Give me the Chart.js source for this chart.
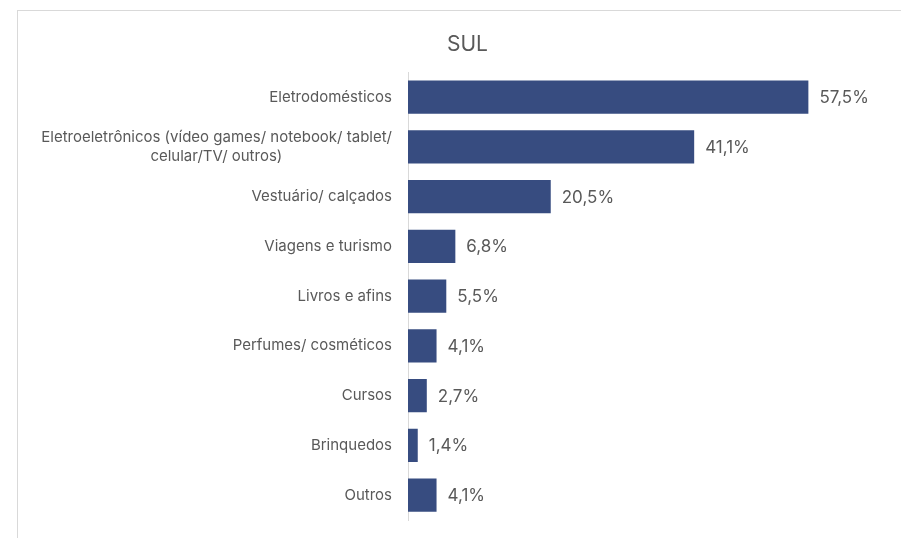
<!DOCTYPE html>
<html>
<head>
<meta charset="utf-8">
<script src="https://cdn.jsdelivr.net/npm/chart.js@4.4.1/dist/chart.umd.min.js"></script>
<style>
  html, body { margin: 0; padding: 0; background: #ffffff; overflow: hidden; width: 901px; height: 538px; }
  #wrap { position: absolute; left: 17px; top: 10px; width: 900px; height: 528px;
          border-top: 1px solid #d9d9d9; border-left: 1px solid #d9d9d9; box-sizing: border-box; }
  canvas { display: block; }
</style>
</head>
<body>
<div id="wrap"><canvas id="c" width="899" height="527"></canvas></div>
<script>
const chartTitle = 'SUL';
const categories = [
  'Eletrodomésticos',
  ['Eletroeletrônicos (vídeo games/ notebook/ tablet/', 'celular/TV/ outros)'],
  'Vestuário/ calçados',
  'Viagens e turismo',
  'Livros e afins',
  'Perfumes/ cosméticos',
  'Cursos',
  'Brinquedos',
  'Outros'
];
const values = [57.5, 41.1, 20.5, 6.8, 5.5, 4.1, 2.7, 1.4, 4.1];

const FONT = 'Inter, "Noto Sans", sans-serif';
const TEXT = '#595959';
const BAR = '#374C80';
const LABEL_SIZE = 15;

const fmt = v => v.toLocaleString('pt-BR', { minimumFractionDigits: 1, maximumFractionDigits: 1 }) + '%';

// center the second line of wrapped labels under the first one (right-aligned ticks)
const mctx = document.createElement('canvas').getContext('2d');
mctx.font = LABEL_SIZE + 'px ' + FONT;
function centerLines(lbl) {
  if (!Array.isArray(lbl)) return lbl;
  const w0 = mctx.measureText(lbl[0]).width;
  const sp = mctx.measureText('\u00A0').width || 3.5;
  return lbl.map((line, i) => {
    if (i === 0) return line;
    const w = mctx.measureText(line).width;
    const n = Math.max(0, Math.round((w0 - w) / 2 / sp));
    return line + '\u00A0'.repeat(n);
  });
}

const valueLabels = {
  id: 'valueLabels',
  afterDatasetsDraw(chart) {
    const ctx = chart.ctx;
    const meta = chart.getDatasetMeta(0);
    ctx.save();
    ctx.font = '17px ' + FONT;
    ctx.fillStyle = TEXT;
    ctx.textAlign = 'left';
    ctx.textBaseline = 'middle';
    meta.data.forEach((bar, i) => {
      ctx.fillText(fmt(values[i]), bar.x + 11, bar.y + 1);
    });
    ctx.restore();
  }
};

new Chart(document.getElementById('c'), {
  type: 'bar',
  data: {
    labels: categories,
    datasets: [{
      data: values,
      backgroundColor: BAR,
      borderWidth: 0,
      categoryPercentage: 1,
      barPercentage: 0.67
    }]
  },
  options: {
    indexAxis: 'y',
    responsive: false,
    animation: false,
    devicePixelRatio: 1,
    layout: { padding: { left: 0, right: 0, top: 0, bottom: 18 } },
    plugins: {
      legend: { display: false },
      tooltip: { enabled: false },
      title: {
        display: true,
        text: chartTitle,
        color: TEXT,
        font: { family: FONT, size: 21, weight: 'normal' },
        padding: { top: 21, bottom: 15 }
      }
    },
    scales: {
      x: {
        display: false,
        min: 0,
        max: 73.1
      },
      y: {
        afterFit(scale) { scale.width = 390; scale.paddingTop = 0; scale.paddingBottom = 0; },
        grid: { display: false, drawTicks: false },
        border: { display: true, color: '#d9d9d9', width: 1 },
        ticks: {
          padding: 16,
          color: TEXT,
          font: { family: FONT, size: LABEL_SIZE, lineHeight: 1.25 },
          autoSkip: false,
          callback: function (v, i) { return centerLines(categories[i]); }
        }
      }
    }
  },
  plugins: [valueLabels]
});
</script>
</body>
</html>
